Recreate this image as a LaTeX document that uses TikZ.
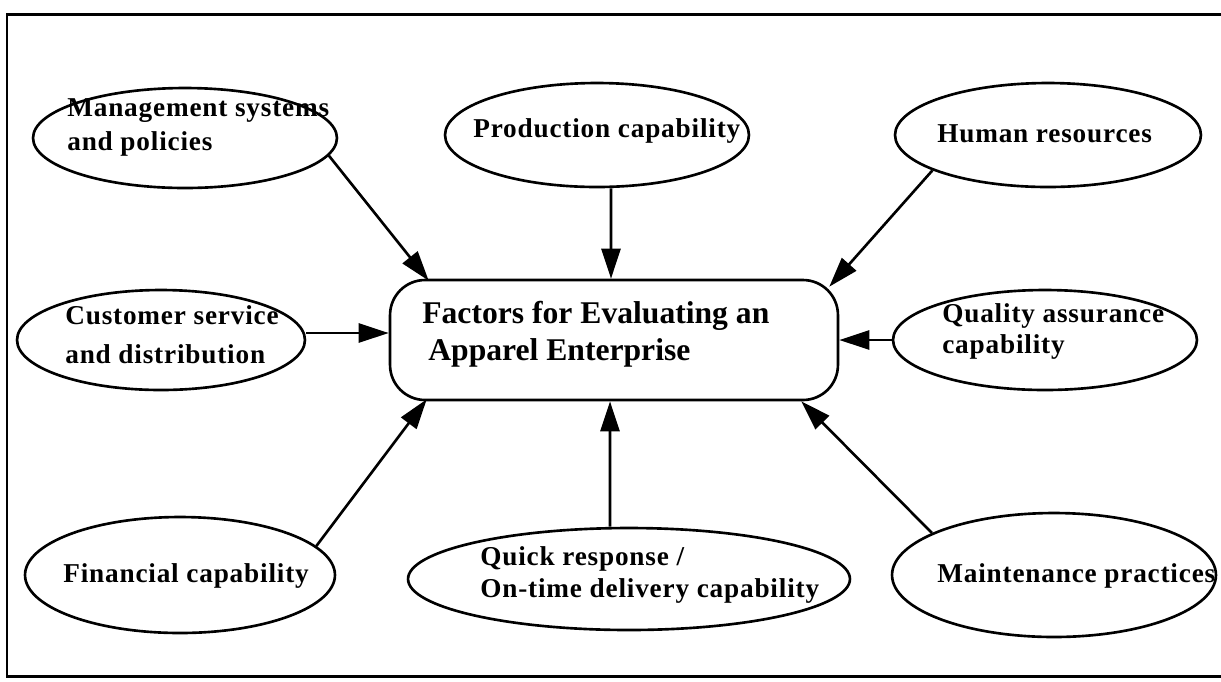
\documentclass[tikz,border=0pt]{standalone}
\usepackage{fontspec}
\usetikzlibrary{arrows.meta,calc,shapes.geometric}
\newfontfamily\ovalfont[LetterSpace=3]{Liberation Serif}
\newfontfamily\hubfont{Liberation Serif}

\begin{document}
\begin{tikzpicture}[x=0.02cm,y=-0.02cm,
  oval/.style={ellipse, draw, line width=1.5pt, inner sep=0pt},
  hub/.style={rectangle, rounded corners=0.7cm, draw, line width=1.5pt,
    minimum width=8.96cm, minimum height=2.4cm, inner sep=0pt},
  % text nodes are placed by the baseline of their last line
  ovaltext/.style={font=\ovalfont\bfseries\fontsize{15.5pt}{#1}\selectfont,
    align=left, anchor=base west, inner sep=0pt},
  ovaltext/.default=19pt,
  feed/.style={-{Triangle[length=0.6cm,width=0.38cm]}, line width=1.5pt},
]
\useasboundingbox (0,0) rectangle (1221,681);

% open frame (right side runs off the page)
\draw[line width=1.7pt] (1221,14) -- (7,14) -- (7,676) -- (1221,676);

% central box
\node[hub] (hub) at (614,340) {};
\node[font=\hubfont\bfseries\fontsize{18pt}{20.5pt}\selectfont, align=left,
  anchor=base west, inner sep=0pt] (hubT) at (422,360)
  {Factors for Evaluating an\\\hspace*{0.12cm}Apparel Enterprise};

% surrounding factors
\node[oval, minimum width=6.08cm, minimum height=2cm] (mgmt) at (185,138) {};
\node[ovaltext=19.3pt] (mgmtT) at (67,150) {Management systems\\and policies};

\node[oval, minimum width=6.08cm, minimum height=2.08cm] (prod) at (597,135) {};
\node[ovaltext] (prodT) at (473,137) {Production capability};

\node[oval, minimum width=6.12cm, minimum height=2.08cm] (hum) at (1048,135) {};
\node[ovaltext] (humT) at (937,142) {Human resources};

\node[oval, minimum width=5.76cm, minimum height=2cm] (cust) at (161,340) {};
\node[ovaltext=22pt] (custT) at (65,363) {Customer service\\and distribution};

\node[oval, minimum width=6.08cm, minimum height=2cm] (qual) at (1045,340) {};
\node[ovaltext=17.6pt] (qualT) at (942,353) {Quality assurance\\capability};

\node[oval, minimum width=6.2cm, minimum height=2.32cm] (fin) at (180,575) {};
\node[ovaltext] (finT) at (63,582) {Financial capability};

\node[oval, minimum width=8.84cm, minimum height=2.04cm] (quick) at (629,579) {};
\node[ovaltext=18.2pt] (quickT) at (480,597) {Quick response /\\On-time delivery capability};

\node[oval, minimum width=6.48cm, minimum height=2.48cm] (maint) at (1054,575) {};
\node[ovaltext] (maintT) at (937,582) {Maintenance practices};

% connectors into the central box
\draw[feed] (mgmt.-7.5) -- ($(hub.north west)+(40,2)$);
\draw[feed] ([xshift=0.28cm]prod.south) -- ([xshift=-0.06cm]hub.north);
\draw[feed] (hum.197) -- ($(hub.north east)+(-10,8)$);
\draw[feed] ([yshift=0.14cm]cust.east) -- ([yshift=0.14cm]hub.west);
\draw[feed] (qual.west) -- (hub.east);
\draw[feed] (fin.12.8) -- ($(hub.south west)+(38,-2)$);
\draw[feed] ([xshift=-0.38cm]quick.north) -- ([xshift=-0.08cm]hub.south);
\draw[feed] (maint.161.7) -- ($(hub.south east)+(-38,0)$);
\end{tikzpicture}
\end{document}
